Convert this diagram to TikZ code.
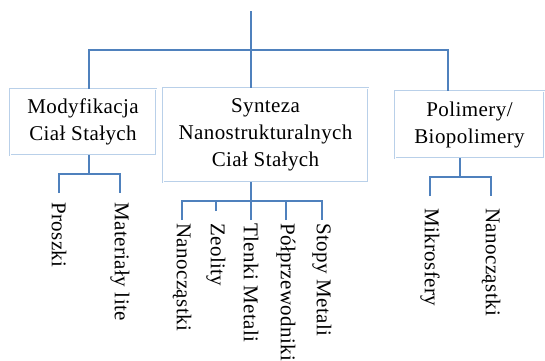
\documentclass[tikz,border=0pt]{standalone}
\usepackage{fontspec}
\setmainfont[LetterSpace=2]{Liberation Serif}
\definecolor{linkblue}{RGB}{79,129,189}
\definecolor{boxedge}{RGB}{185,208,233}
\tikzset{
  box/.style={rectangle, draw=boxedge, line width=0.7pt, double=white,
    double distance=0.7pt, align=center, inner sep=0pt,
    font=\fontsize{21}{27}\selectfont},
  link/.style={draw=linkblue, line width=1.2pt},
  leaf/.style={rotate=-90, anchor=west, inner ysep=0pt,
    font=\fontsize{21}{27}\selectfont},
}

\begin{document}
\begin{tikzpicture}[x=1pt,y=-1pt]
  \useasboundingbox (0,0) rectangle (545,360);
  \coordinate (root) at (251,11);
  \coordinate (topbar) at (251,50);

  \node[box, minimum width=146pt, minimum height=66pt] (modyf) at (83,122)
    {Modyfikacja\\Ciał Stałych};
  \node[box, minimum width=205pt, minimum height=94pt] (synteza) at (265.5,135)
    {Synteza\\Nanostrukturalnych\\Ciał Stałych};
  \node[box, minimum width=149pt, minimum height=67pt] (polim) at (469.5,124.5)
    {Polimery/\\Biopolimery};

  \draw[link] (root) -- (root |- synteza.north);
  \draw[link] ([xshift=6pt]modyf.north) |- (topbar) -| ([xshift=-21.5pt]polim.north);

  % Modyfikacja
  \coordinate (mbar) at (89,174);
  \node[leaf, inner xsep=9pt] (proszki) at (59,193) {Proszki};
  \node[leaf, inner xsep=9pt] (lite) at (120,193) {Materiały lite};
  \draw[link] ([xshift=6pt]modyf.south) -- (mbar);
  \draw[link] (proszki.west) |- (mbar) -| (lite.west);

  % Synteza
  \coordinate (sbar) at (251,201);
  \node[leaf, inner xsep=3pt] (nanoA) at (182,220) {Nanocząstki};
  \node[leaf, inner xsep=12pt] (zeolity) at (216,211) {Zeolity};
  \node[leaf, inner xsep=3pt] (tlenki) at (251,220) {Tlenki Metali};
  \node[leaf, inner xsep=3pt] (polprz) at (286,220) {Półprzewodniki};
  \node[leaf, inner xsep=3pt] (stopy) at (322,220) {Stopy Metali};
  \draw[link] ([xshift=-14.5pt]synteza.south) -- (sbar);
  \draw[link] (nanoA.west) |- (sbar) -| (stopy.west);
  \draw[link] (zeolity.west) -- (zeolity.west |- sbar);
  \draw[link] (tlenki.west) -- (tlenki.west |- sbar);
  \draw[link] (polprz.west) -- (polprz.west |- sbar);

  % Polimery
  \coordinate (pbar) at (460,177);
  \node[leaf, inner xsep=12pt] (mikro) at (430,196) {Mikrosfery};
  \node[leaf, inner xsep=12pt] (nanoB) at (491,196) {Nanocząstki};
  \draw[link] ([xshift=-9.5pt]polim.south) -- (pbar);
  \draw[link] (mikro.west) |- (pbar) -| (nanoB.west);
\end{tikzpicture}
\end{document}
